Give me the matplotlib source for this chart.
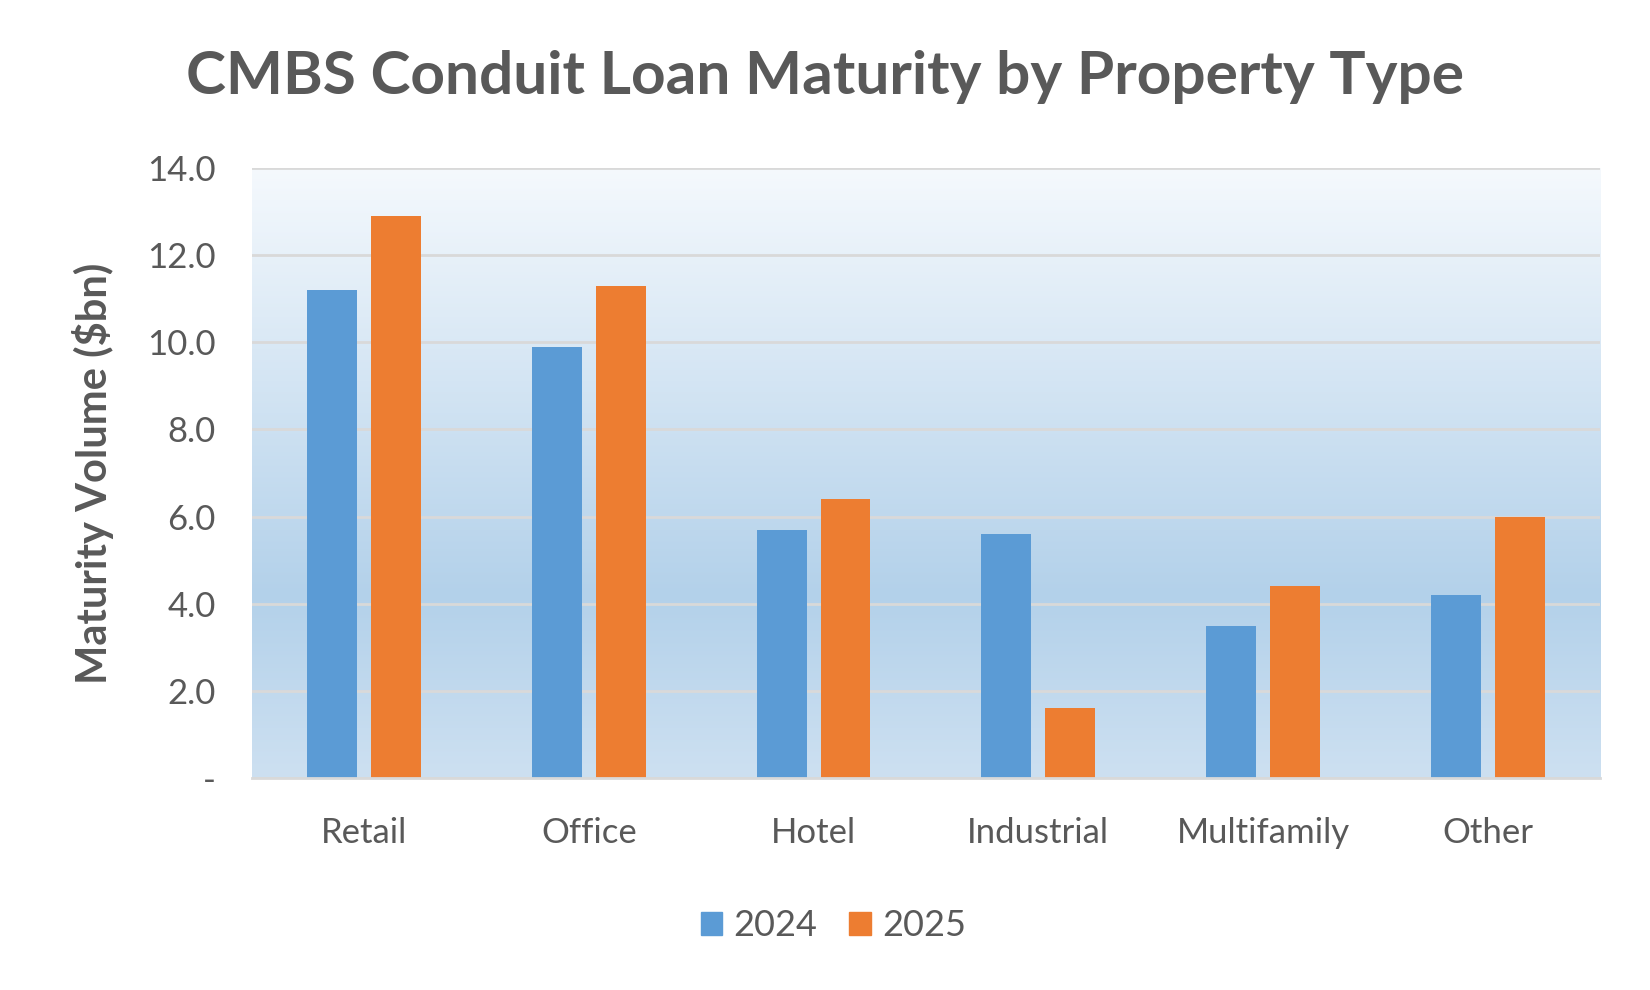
import numpy as np
import matplotlib
matplotlib.use("Agg")
import matplotlib.pyplot as plt
from matplotlib.colors import LinearSegmentedColormap
from matplotlib.patches import Patch

# ── Data ──────────────────────────────────────────────────────────────────────

property_types = ["Retail", "Office", "Hotel", "Industrial", "Multifamily", "Other"]
maturity_2024  = [11.2, 9.9, 5.7, 5.6, 3.5, 4.2]
maturity_2025  = [12.9, 11.3, 6.4, 1.6, 4.4, 6.0]
y_ticks        = [0, 2, 4, 6, 8, 10, 12, 14]
y_tick_labels  = ["-", "2.0", "4.0", "6.0", "8.0", "10.0", "12.0", "14.0"]

BLUE   = "#5b9bd5"
ORANGE = "#ed7d31"
TEXT   = "#595959"
GRID   = "#d9d9d9"

plt.rcParams["font.family"] = ["Lato", "DejaVu Sans"]

# ── Figure ────────────────────────────────────────────────────────────────────

fig = plt.figure(figsize=(16.5, 9.9), dpi=100)
ax = fig.add_axes([0.1527, 0.2141, 0.817, 0.6162])

# vertical gradient background for the plot area
grad_cmap = LinearSegmentedColormap.from_list(
    "bg", [(0.0, "#cde0f1"), (0.30, "#b3d1ea"), (1.0, "#f5f9fd")]
)
ax.imshow(np.linspace(0, 1, 256).reshape(-1, 1), cmap=grad_cmap, aspect="auto",
          origin="lower", extent=[-0.5, 5.5, 0, 14], zorder=0)

x = np.arange(len(property_types))
width = 0.222
offset = 0.142
ax.bar(x - offset, maturity_2024, width, color=BLUE, zorder=3, label="2024")
ax.bar(x + offset, maturity_2025, width, color=ORANGE, zorder=3, label="2025")

ax.set_xlim(-0.5, 5.5)
ax.set_ylim(0, 14)
ax.set_yticks(y_ticks)
ax.set_yticklabels(y_tick_labels)
ax.set_xticks(x)
ax.set_xticklabels(property_types)

ax.grid(axis="y", color=GRID, linewidth=2, zorder=1)
ax.set_axisbelow(False)
for side in ["top", "right", "left"]:
    ax.spines[side].set_visible(False)
ax.spines["bottom"].set_color(GRID)
ax.spines["bottom"].set_linewidth(2)
ax.spines["bottom"].set_zorder(4)

ax.tick_params(axis="both", length=0, colors=TEXT, labelsize=25)
ax.tick_params(axis="x", pad=28)
ax.tick_params(axis="y", pad=26)

ax.set_ylabel("Maturity Volume ($bn)", fontsize=30, fontweight="bold",
              color=TEXT, labelpad=24)

fig.text(0.5, 0.922, "CMBS Conduit Loan Maturity by Property Type",
         ha="center", va="center", fontsize=43.5, fontweight="bold", color=TEXT)

handles = [Patch(color=BLUE, label="2024"), Patch(color=ORANGE, label="2025")]
fig.legend(handles=handles, loc="center", bbox_to_anchor=(0.505, 0.065),
           ncol=2, frameon=False, fontsize=26, labelcolor=TEXT,
           handlelength=0.6, handleheight=0.6, handletextpad=0.3,
           columnspacing=0.9)

fig.savefig("out.png", dpi=100)
